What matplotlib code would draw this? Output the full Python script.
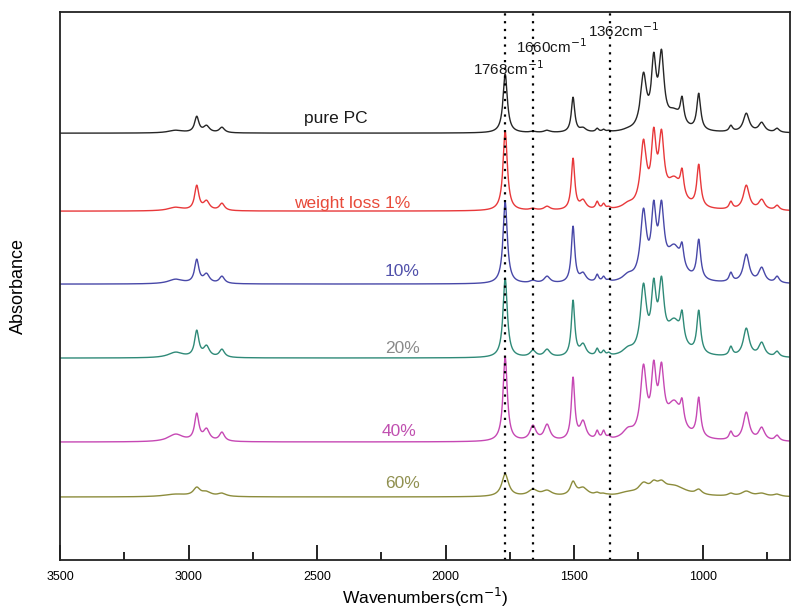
import numpy as np
import matplotlib
matplotlib.use("Agg")
import matplotlib.pyplot as plt

plt.rcParams['font.family'] = ['Liberation Sans', 'DejaVu Sans']

# peak positions (cm-1) and half widths
peak_centers = [3050, 2968, 2930, 2870, 1768, 1660, 1605, 1504, 1465, 1410, 1385, 1365,
                1290, 1230, 1190, 1160, 1110, 1080, 1015, 890, 830, 770, 710]
peak_widths = [35, 10, 14, 12, 10, 14, 14, 8, 14, 7, 7, 7,
               25, 14, 11, 12, 35, 8, 9, 8, 14, 14, 10]

labels = ['pure PC', 'weight loss 1%', '10%', '20%', '40%', '60%']
offsets = [427, 349, 276, 202, 118, 63]
width_scale = [1.0, 1.0, 1.0, 1.0, 1.0, 1.6]

# absorbance above baseline at each peak (arbitrary units)
h_pure = [3, 17, 8, 6, 59, 2, 3, 36, 6, 5, 4, 3, 6, 61, 81, 84, 25, 37, 40, 8, 20, 11, 5]
h_1 = [4, 26, 11, 8, 80, 3, 5, 53, 12, 10, 8, 5, 10, 72, 84, 82, 35, 43, 47, 10, 26, 12, 6]
h_10 = [5, 25, 11, 8, 82, 4, 8, 58, 12, 10, 8, 5, 12, 76, 84, 84, 40, 42, 45, 12, 30, 17, 8]
h_20 = [6, 28, 13, 9, 80, 8, 9, 58, 15, 10, 8, 6, 12, 75, 80, 82, 40, 48, 48, 12, 30, 16, 7]
h_40 = [8, 29, 14, 10, 85, 17, 18, 65, 22, 12, 12, 7, 15, 78, 82, 80, 42, 44, 45, 11, 30, 15, 7]
h_60 = [3, 10, 6, 4, 23, 8, 7, 16, 10, 5, 4, 3, 6, 15, 17, 17, 12, 7, 8, 4, 6, 4, 3]
heights = [h_pure, h_1, h_10, h_20, h_40, h_60]

line_colors = ['#262626', '#e8383a', '#4848a8', '#2f8a78', '#c648b4', '#8c8c3c']
text_colors = ['#1a1a1a', '#e84a3a', '#5050aa', '#8a8a8a', '#c050b0', '#909050']
text_x = [2426, 2364, 2169, 2169, 2180, 2169]
text_y = [442, 357, 289, 212, 129, 77]

marks = [1768, 1660, 1362]
mark_x = [1893, 1726, 1446]
mark_y = [485, 507, 523]

wn = np.arange(660, 3501, 1.0)


def build(h, scale):
    c = np.array(peak_centers, float)
    w = np.array(peak_widths, float) * scale
    A = 1.0 / (1.0 + ((c[:, None] - c[None, :]) / w[None, :]) ** 2)
    target = np.array(h, float)
    amp = target.copy()
    for _ in range(600):
        amp = np.clip(amp + 0.4 * (target - A @ amp), 0, None)
    return (amp[None, :] / (1.0 + ((wn[:, None] - c[None, :]) / w[None, :]) ** 2)).sum(axis=1)


fig = plt.figure(figsize=(8, 6.11), dpi=100)
ax = fig.add_axes([0.075, 0.0835, 0.9125, 0.8965])

for i in range(len(labels)):
    y = offsets[i] + build(heights[i], width_scale[i])
    ax.plot(wn, y, color=line_colors[i], lw=1.0)
    ax.text(text_x[i], text_y[i], labels[i], color=text_colors[i], fontsize=12.5,
            ha='center', va='center')

for m, tx, ty in zip(marks, mark_x, mark_y):
    ax.axvline(m, color='black', lw=1.6, linestyle=(0, (1, 2.5)))
    ax.text(tx, ty, '%dcm$^{-1}$' % m, fontsize=11, ha='left', va='baseline', color='#1a1a1a')

ax.set_xlim(3500, 660)
ax.set_ylim(0, 548)
ax.set_yticks([])
ax.set_xticks([3500, 3000, 2500, 2000, 1500, 1000])
ax.set_xticks(np.arange(750, 3500, 500), minor=True)
ax.tick_params(axis='x', which='major', direction='in', length=11, width=1.2, labelsize=9, pad=8)
ax.tick_params(axis='x', which='minor', direction='in', length=6, width=1.2)
for s in ax.spines.values():
    s.set_linewidth(1.3)
    s.set_color('#222222')

ax.set_xlabel('Wavenumbers(cm$^{-1}$)', fontsize=12.5)
ax.set_ylabel('Absorbance', fontsize=13)
ax.yaxis.set_label_coords(-0.045, 0.5)
ax.xaxis.set_label_coords(0.5, -0.047)

fig.savefig('out.png', dpi=100)
